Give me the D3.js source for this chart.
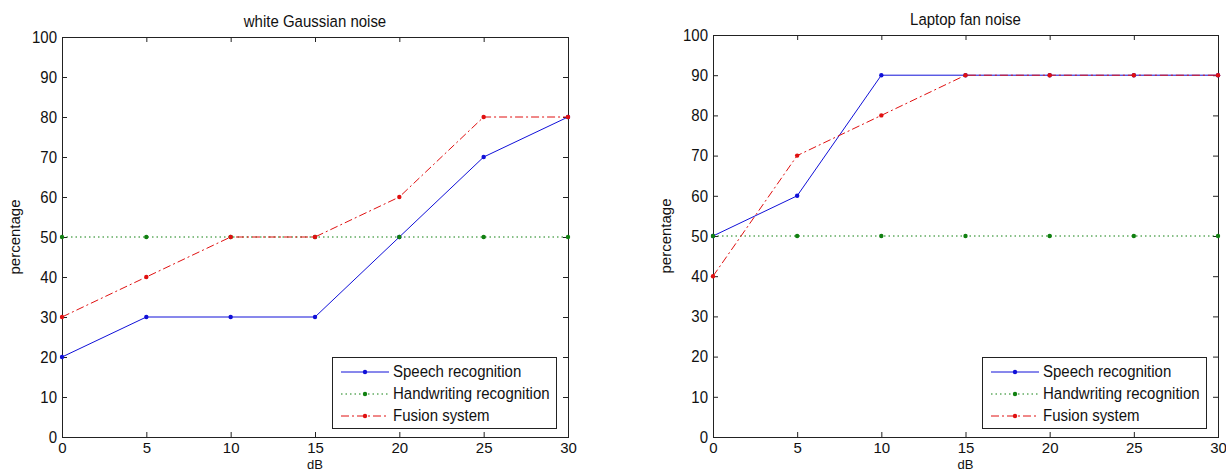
<!DOCTYPE html>
<html>
<head>
<meta charset="utf-8">
<script src="https://cdn.jsdelivr.net/npm/d3@7"></script>
<style>
  body { margin: 0; background: #fff; }
  svg { display: block; font-family: "Liberation Sans", Arial, sans-serif; }
  .axis path.domain { display: none; }
  .axis line { stroke: #222; }
  .axis text { fill: #111; font-size: 15px; }
</style>
</head>
<body>
<svg id="chart" width="1226" height="472"></svg>
<script>
// dati
const dbValues = [0, 5, 10, 15, 20, 25, 30];
const xTicks = [0, 5, 10, 15, 20, 25, 30];
const yTicks = [0, 10, 20, 30, 40, 50, 60, 70, 80, 90, 100];
const titles = ['white Gaussian noise', 'Laptop fan noise'];
const seriesNames = ['Speech recognition', 'Handwriting recognition', 'Fusion system'];

const gaussSpeech = [20, 30, 30, 30, 50, 70, 80];
const gaussHandwriting = [50, 50, 50, 50, 50, 50, 50];
const gaussFusion = [30, 40, 50, 50, 60, 80, 80];

const fanSpeech = [50, 60, 90, 90, 90, 90, 90];
const fanHandwriting = [50, 50, 50, 50, 50, 50, 50];
const fanFusion = [40, 70, 80, 90, 90, 90, 90];

// stile delle serie (come in matlab: b.-  g.:  r.-.)
const styles = [
    { color: '#1010d8', dash: null },
    { color: '#108010', dash: '1.5,3' },
    { color: '#e01010', dash: '8,3,2,3' }
];

const panels = [
    { title: titles[0], series: [gaussSpeech, gaussHandwriting, gaussFusion],
      left: 62, right: 568, top: 37, bottom: 437, titleY: 26.5 },
    { title: titles[1], series: [fanSpeech, fanHandwriting, fanFusion],
      left: 713, right: 1218, top: 35, bottom: 437, titleY: 24.5 }
];

const svg = d3.select('#chart');
const stretch = 1.1;

function stretchText(sel) {
    sel.selectAll('text')
        .attr('y', function() { return (+this.getAttribute('y') || 0) / stretch; })
        .attr('transform', `scale(1,${stretch})`);
}

panels.forEach(p => {
    const g = svg.append('g');

    const x = d3.scaleLinear().domain([0, 30]).range([p.left, p.right]);
    const y = d3.scaleLinear().domain([0, 100]).range([p.bottom, p.top]);

    // assi con tick verso l'interno su tutti i lati
    g.append('g').attr('class', 'axis')
        .attr('transform', `translate(0,${p.bottom})`)
        .call(d3.axisBottom(x).tickValues(xTicks).tickSizeInner(-5).tickSizeOuter(0).tickPadding(5));

    const yl = g.append('g').attr('class', 'axis')
        .attr('transform', `translate(${p.left},0)`)
        .call(d3.axisLeft(y).tickValues(yTicks).tickSizeInner(-5).tickSizeOuter(0).tickPadding(5));
    stretchText(yl);

    g.append('g').attr('class', 'axis')
        .attr('transform', `translate(0,${p.top})`)
        .call(d3.axisTop(x).tickValues(xTicks).tickSizeInner(-5).tickSizeOuter(0).tickFormat(''));

    g.append('g').attr('class', 'axis')
        .attr('transform', `translate(${p.right},0)`)
        .call(d3.axisRight(y).tickValues(yTicks).tickSizeInner(-5).tickSizeOuter(0).tickFormat(''));

    // box
    g.append('rect')
        .attr('x', p.left + 0.5).attr('y', p.top + 0.5)
        .attr('width', p.right - p.left).attr('height', p.bottom - p.top)
        .attr('fill', 'none').attr('stroke', '#222').attr('stroke-width', 1);

    // linee
    const line = d3.line().x((d, i) => x(dbValues[i])).y(d => y(d));
    p.series.forEach((vals, s) => {
        g.append('path')
            .datum(vals)
            .attr('d', line)
            .attr('fill', 'none')
            .attr('stroke', styles[s].color)
            .attr('stroke-width', 1)
            .attr('stroke-dasharray', styles[s].dash);
        g.selectAll(null)
            .data(vals)
            .join('circle')
            .attr('cx', (d, i) => x(dbValues[i]))
            .attr('cy', d => y(d))
            .attr('r', 2.2)
            .attr('fill', styles[s].color);
    });

    // titolo e label
    g.append('text')
        .attr('transform', `translate(${(p.left + p.right) / 2},${p.titleY}) scale(1,${stretch})`)
        .attr('text-anchor', 'middle')
        .attr('font-size', 15)
        .attr('fill', '#111')
        .text(p.title);

    g.append('text')
        .attr('x', (p.left + p.right) / 2)
        .attr('y', 469)
        .attr('text-anchor', 'middle')
        .attr('font-size', 13)
        .attr('fill', '#111')
        .text('dB');

    g.append('text')
        .attr('transform', `translate(${p.left - 42},${(p.top + p.bottom) / 2}) rotate(-90)`)
        .attr('text-anchor', 'middle')
        .attr('font-size', 15)
        .attr('fill', '#111')
        .text('percentage');

    // legenda
    const lw = 224, lh = 71;
    const lx = p.right - 12 - lw, ly = p.bottom - 9 - lh;
    const legend = g.append('g').attr('transform', `translate(${lx},${ly})`);
    legend.append('rect')
        .attr('x', 0.5).attr('y', 0.5)
        .attr('width', lw).attr('height', lh)
        .attr('fill', '#fff').attr('stroke', '#222');

    legend.selectAll('g.item')
        .data(seriesNames)
        .join('g')
        .attr('class', 'item')
        .attr('transform', (d, i) => `translate(0,${15 + i * 22})`)
        .each(function(d, i) {
            const it = d3.select(this);
            it.append('line')
                .attr('x1', 9).attr('x2', 57).attr('y1', 0).attr('y2', 0)
                .attr('stroke', styles[i].color)
                .attr('stroke-dasharray', styles[i].dash);
            it.append('circle')
                .attr('cx', 33).attr('cy', 0).attr('r', 2.2)
                .attr('fill', styles[i].color);
            it.append('text')
                .attr('transform', `translate(61,5) scale(1,${stretch})`)
                .attr('font-size', 15)
                .attr('fill', '#111')
                .text(d);
        });
});
</script>
</body>
</html>
